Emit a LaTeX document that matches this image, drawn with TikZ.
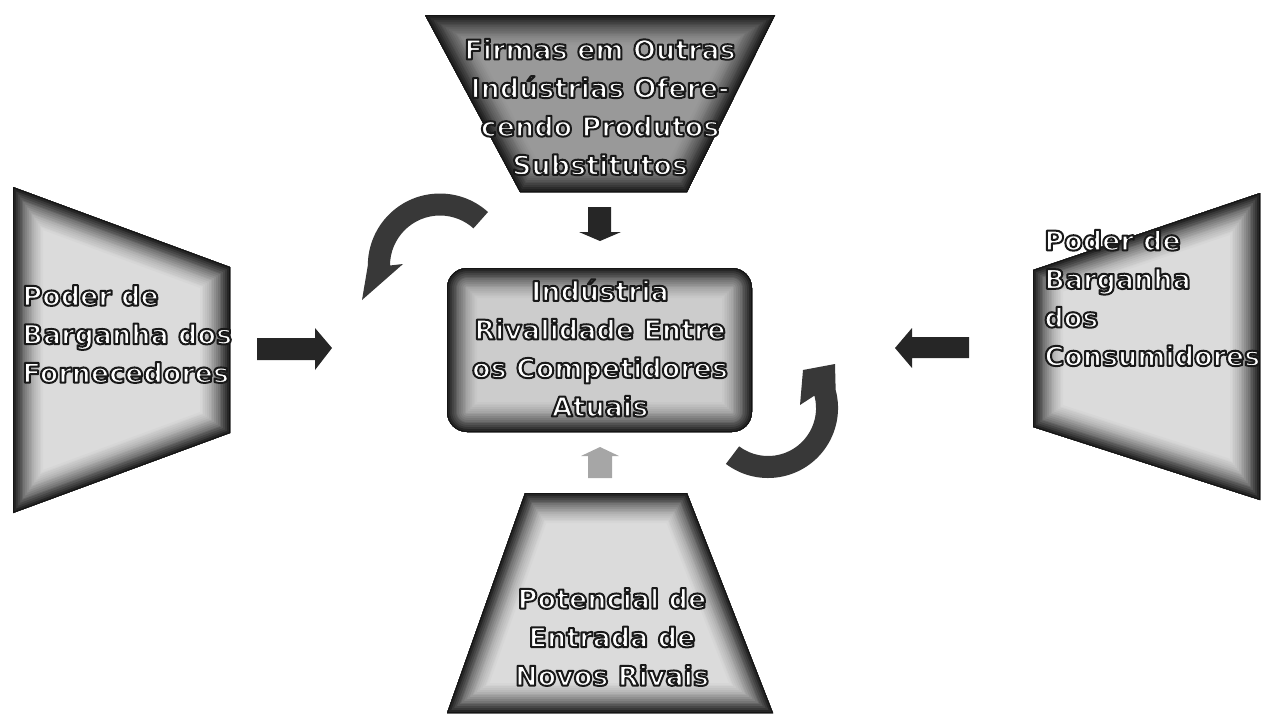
\documentclass[tikz,border=0pt]{standalone}
\usepackage{fontspec}
\setmainfont{DejaVu Sans}

% white letters with a dark edge (fill and stroke in one go)
\newcommand{\outl}[1]{\special{pdf:code q 0.1 G 1 w 1 j 2 Tr}#1\special{pdf:code Q}}
% dark rim fading into the face
\newcommand{\glowshape}[2]{%
  \begin{scope}
    \clip #2;
    \fill[black!#1] #2;
    \foreach \i in {1,...,18} {%
      \pgfmathtruncatemacro{\lw}{(19-\i)*1.8}%
      \pgfmathtruncatemacro{\dk}{#1+(92-#1)*(\i/18)^1.6}%
      \draw[line width=\lw pt, black!\dk] #2;
    }
  \end{scope}}

\begin{document}
\begin{tikzpicture}[x=0.5pt,y=-0.5pt,
    label/.style={text=white,font=\bfseries\fontsize{13.5}{19.25}\selectfont,inner sep=0pt},
    darkarrow/.style={fill=black!85},
    palearrow/.style={fill=black!35},
    bentarrow/.style={fill=black!78}]
  \useasboundingbox (0,0) rectangle (1262,713);

  % the five forces
  \glowshape{40}{(425,15) -- (775,15) -- (687,192) -- (520,192) -- cycle}
  \glowshape{14}{(13,187) -- (230,267) -- (230,433) -- (13,513) -- cycle}
  \glowshape{14}{(1033,270) -- (1260,193) -- (1260,500) -- (1033,427) -- cycle}
  \glowshape{14}{(525,493) -- (687,493) -- (773,713) -- (447,713) -- cycle}
  \glowshape{20}{[rounded corners=10pt] (447,268) rectangle (752,432)}

  \node[label,align=center] (subst) at (600,107)
    {\outl{Firmas em Outras}\\\outl{Indústrias Ofere-}\\\outl{cendo Produtos}\\\outl{Substitutos}};
  \node[label,align=left,anchor=west] (forn) at (22,334)
    {\outl{Poder de}\\\outl{Barganha dos}\\\outl{Fornecedores}};
  \node[label,align=left,anchor=west] (cons) at (1044,298)
    {\outl{Poder de}\\\outl{Barganha}\\\outl{dos}\\\outl{Consumidores}};
  \node[label,align=center] (rival) at (600,348)
    {\outl{Indústria}\\\outl{Rivalidade Entre}\\\outl{os Competidores}\\\outl{Atuais}};
  \node[label,align=center] (entr) at (612,637)
    {\outl{Potencial de}\\\outl{Entrada de}\\\outl{Novos Rivais}};

  % straight block arrows
  \fill[darkarrow] (588,207) -- (611,207) -- (611,232) -- (621,232) -- (600,241)
    -- (579,232) -- (588,232) -- cycle;
  \fill[palearrow] (588,478) -- (612,478) -- (612,456) -- (619,456) -- (600,447)
    -- (581,456) -- (588,456) -- cycle;
  \fill[darkarrow] (257,338) -- (315,338) -- (315,328) -- (332,348) -- (315,370)
    -- (315,360) -- (257,360) -- cycle;
  \fill[darkarrow] (969,337) -- (912,337) -- (912,328) -- (895,348) -- (912,368)
    -- (912,358) -- (969,358) -- cycle;

  % bent arrows
  \fill[bentarrow] (488,212) arc[start angle=-48, end angle=-180, radius=72]
    -- (362,300) -- (403,264) -- (390,265.5) arc[start angle=180, end angle=312, radius=50] -- cycle;
  \fill[bentarrow] (725.9,463.9) arc[start angle=127, end angle=-15, radius=70]
    -- (835,364) -- (803,370) -- (800,405) -- (814.4,395.6)
    arc[start angle=-15, end angle=127, radius=48] -- cycle;
\end{tikzpicture}
\end{document}
